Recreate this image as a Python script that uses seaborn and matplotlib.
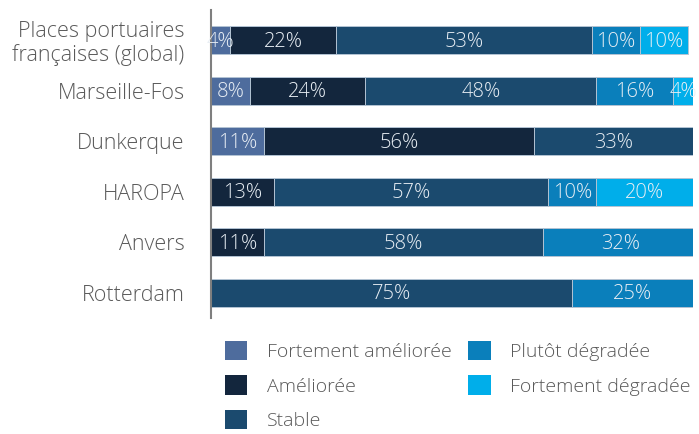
import numpy as np
import pandas as pd
import matplotlib.pyplot as plt
import seaborn as sns
from matplotlib.patches import Patch

# data (percent of respondents)
ports = ["Places portuaires\nfrançaises (global)", "Marseille-Fos", "Dunkerque",
         "HAROPA", "Anvers", "Rotterdam"]
series = ["Fortement améliorée", "Améliorée", "Stable",
          "Plutôt dégradée", "Fortement dégradée"]
fortement_amelioree = [4, 8, 11, 0, 0, 0]
amelioree = [22, 24, 56, 13, 11, 0]
stable = [53, 48, 33, 57, 58, 75]
plutot_degradee = [10, 16, 0, 10, 32, 25]
fortement_degradee = [10, 4, 0, 20, 0, 0]
colors = ["#4e6c9d", "#13263d", "#1b4a6e", "#0a7fbb", "#00aeea"]

values = [fortement_amelioree, amelioree, stable, plutot_degradee, fortement_degradee]
df = pd.DataFrame(dict(zip(series, values)), index=ports)

sns.set_style("white")
plt.rcParams["font.family"] = ["Open Sans", "DejaVu Sans"]

fig = plt.figure(figsize=(6.99, 4.34), dpi=100)
ax = fig.add_axes([0.302, 0.267, 0.689, 0.710])

# stacked bars: draw cumulative totals from the widest to the narrowest
cum = df.cumsum(axis=1)
for name, col in reversed(list(zip(series, colors))):
    sns.barplot(x=cum[name].values, y=ports, orient="h", color=col, ax=ax,
                width=0.55, edgecolor="#b4c4d4", linewidth=0.7, saturation=1)

for i, port in enumerate(ports):
    for name in series:
        v = df.loc[port, name]
        if v <= 0:
            continue
        xc = cum.loc[port, name] - v / 2
        ax.text(xc, i + 0.03, f"{v}%", ha="center", va="center", color="#e8eef4",
                fontsize=14.5, fontweight="light")

ax.set_xlim(0, 100)
ax.set_ylim(5.5, -0.6)
ax.set_xticks([])
ax.set_xlabel("")
ax.set_ylabel("")
ax.tick_params(axis="y", length=0, pad=19, labelsize=15.5, labelcolor="#595959")
for lab in ax.get_yticklabels():
    lab.set_fontweight("light")
    lab.set_multialignment("right")
    lab.set_linespacing(1.1)
for s in ["top", "right", "bottom"]:
    ax.spines[s].set_visible(False)
ax.spines["left"].set_color("#7f7f7f")
ax.spines["left"].set_linewidth(1.5)

handles = [Patch(facecolor=c, edgecolor="none", label=n) for n, c in zip(series, colors)]
leg = fig.legend(handles=handles, ncol=2, loc="upper left",
                 bbox_to_anchor=(0.322, 0.214), frameon=False,
                 fontsize=14, handlelength=1.15, handleheight=1.15,
                 handletextpad=1.0, labelspacing=0.72, columnspacing=0.85,
                 borderaxespad=0, borderpad=0)
for t in leg.get_texts():
    t.set_color("#595959")
    t.set_fontweight("light")

fig.savefig("out.png", dpi=100)
